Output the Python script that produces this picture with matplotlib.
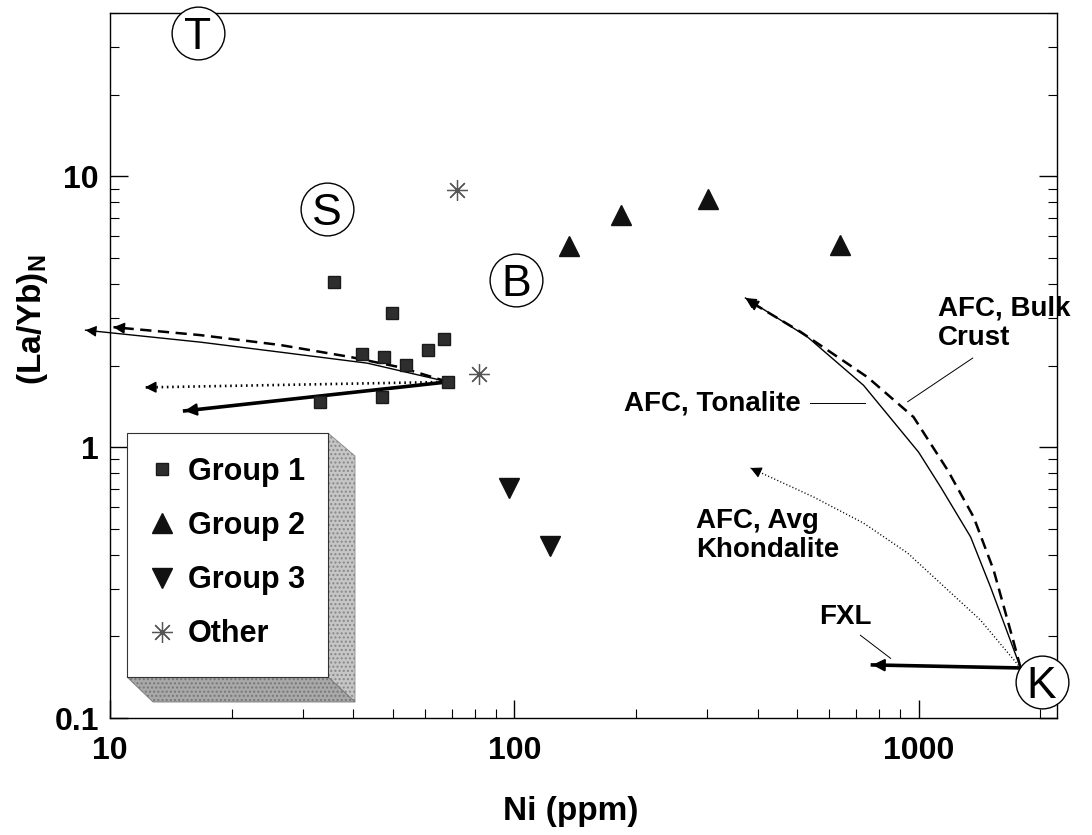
import numpy as np
import matplotlib
matplotlib.use('Agg')
import matplotlib.pyplot as plt
from matplotlib.patches import Polygon, Rectangle
from matplotlib.ticker import FuncFormatter, NullFormatter

plt.rcParams['font.family'] = ['Liberation Sans', 'DejaVu Sans']
plt.rcParams['font.weight'] = 'bold'
plt.rcParams['mathtext.fontset'] = 'custom'
plt.rcParams['mathtext.rm'] = 'Liberation Sans:bold'
plt.rcParams['mathtext.it'] = 'Liberation Sans:bold'

# --- samples: Ni (ppm) vs chondrite normalised La/Yb ---
g1_ni = [35.8, 49.9, 67.1, 61.2, 42.1, 47.7, 54.0, 68.6, 33.1, 47.1]
g1_layb = [4.06, 3.12, 2.50, 2.28, 2.20, 2.15, 2.01, 1.74, 1.47, 1.53]
g2_ni = [136.8, 184, 302, 641]
g2_layb = [5.52, 7.18, 8.22, 5.56]
g3_ni = [97.2, 122.7]
g3_layb = [0.706, 0.431]
oth_ni = [72.3, 81.9]
oth_layb = [8.88, 1.86]

# --- model trajectories starting from the Group 1 parent ---
ton_l_ni = [68.6, 43.3, 26.4, 16.7, 8.7]
ton_l_layb = [1.74, 2.04, 2.24, 2.44, 2.70]
bulk_l_ni = [68.6, 52.2, 39.3, 26.4, 16.7, 10.2]
bulk_l_layb = [1.74, 1.97, 2.15, 2.38, 2.59, 2.77]
khon_l_ni = [68.6, 12.2]
khon_l_layb = [1.74, 1.66]
fxl_l_ni = [68.6, 15.3]
fxl_l_layb = [1.74, 1.36]

# --- model trajectories starting from komatiite K ---
ton_r_ni = [1788, 1507, 1345, 1134, 1000, 731, 531, 373]
ton_r_layb = [0.153, 0.304, 0.466, 0.712, 0.958, 1.69, 2.55, 3.55]
bulk_r_ni = [1788, 1718, 1533, 1368, 1180, 972, 748, 511, 377]
bulk_r_layb = [0.153, 0.191, 0.352, 0.552, 0.822, 1.29, 1.81, 2.66, 3.49]
khon_r_ni = [1788, 1422, 940, 731, 550, 384]
khon_r_layb = [0.153, 0.230, 0.406, 0.524, 0.654, 0.837]
fxl_r_ni = [1788, 769]
fxl_r_layb = [0.153, 0.157]

# end-member labels
em_names = ['T', 'S', 'B', 'K']
em_ni = [16.5, 34.4, 101, 2016]
em_layb = [33.7, 7.55, 4.13, 0.136]

W, H = 1092, 835


def fig_xy(px, py):
    # pixel (from top-left) -> figure fraction
    return px / W, 1 - py / H


def arrow_line(ax, ni, layb, lw, head=12, **kw):
    ax.plot(ni, layb, color='k', lw=lw, clip_on=False, zorder=3, **kw)
    x0, y0 = ni[-1], layb[-1]
    x1, y1 = ni[-2], layb[-2]
    f = 0.03
    ax.annotate('', xy=(x0, y0), xytext=(x0 * (x1 / x0) ** f, y0 * (y1 / y0) ** f),
                arrowprops=dict(arrowstyle='-|>,head_length=0.55,head_width=0.28',
                                color='k', lw=max(lw * 0.6, 0.8), mutation_scale=head,
                                shrinkA=0, shrinkB=0),
                annotation_clip=False, zorder=3)


fig = plt.figure(figsize=(W / 100, H / 100), dpi=100)
ax = fig.add_axes([110 / W, 1 - 718 / H, 947 / W, 705 / H])
ax.set_xscale('log')
ax.set_yscale('log')
ax.set_xlim(10, 2200)
ax.set_ylim(0.1, 40)

# data points
h1, = ax.plot(g1_ni, g1_layb, 's', ms=8.5, color='#2e2e2e', mec='#1a1a1a', ls='none', label='Group 1', zorder=4)
h2, = ax.plot(g2_ni, g2_layb, '^', ms=14, color='#111111', ls='none', label='Group 2', zorder=4)
h3, = ax.plot(g3_ni, g3_layb, 'v', ms=14, color='#111111', ls='none', label='Group 3', zorder=4)
h4, = ax.plot(oth_ni, oth_layb, marker=(8, 2, 0), ms=15, mew=0.9, color='#555555', ls='none', label='Other', zorder=4)

# model curves
arrow_line(ax, ton_l_ni, ton_l_layb, 1.0)
arrow_line(ax, bulk_l_ni, bulk_l_layb, 1.8, dashes=(4.5, 2.6))
arrow_line(ax, khon_l_ni, khon_l_layb, 1.9, dashes=(0.6, 1.4))
arrow_line(ax, fxl_l_ni, fxl_l_layb, 2.6, head=13)

arrow_line(ax, ton_r_ni, ton_r_layb, 1.0)
arrow_line(ax, bulk_r_ni, bulk_r_layb, 1.8, dashes=(4.5, 2.6))
arrow_line(ax, khon_r_ni, khon_r_layb, 1.0, dashes=(0.8, 1.6))
arrow_line(ax, fxl_r_ni, fxl_r_layb, 2.6, head=13)

# circled end-member labels
for name, x, y in zip(em_names, em_ni, em_layb):
    ax.plot(x, y, 'o', ms=38, mfc='white', mec='black', mew=1.0, clip_on=False, zorder=6)
    ax.annotate(name, (x, y), xytext=(0, -11.5), textcoords='offset points',
                ha='center', va='baseline', fontsize=32, fontweight='normal',
                annotation_clip=False, zorder=7)

# curve labels
lab_kw = dict(fontsize=20, fontweight='bold', zorder=5)
ax.text(511, 1.45, 'AFC, Tonalite', ha='right', va='center', **lab_kw)
ax.plot([540, 739], [1.45, 1.45], color='k', lw=0.7)
ax.text(1114, 2.86, 'AFC, Bulk\nCrust', ha='left', va='center', linespacing=1.15, clip_on=False, **lab_kw)
ax.plot([1361, 940], [2.13, 1.47], color='k', lw=0.7)
ax.text(281, 0.473, 'AFC, Avg\nKhondalite', ha='left', va='center', linespacing=1.15, **lab_kw)
ax.text(659, 0.236, 'FXL', ha='center', va='center', **lab_kw)
ax.plot([718, 853], [0.202, 0.166], color='k', lw=0.7)

# axes styling
for s in ax.spines.values():
    s.set_linewidth(1.0)
fmt = FuncFormatter(lambda v, p: f'{v:g}')
ax.xaxis.set_major_formatter(fmt)
ax.yaxis.set_major_formatter(fmt)
ax.xaxis.set_minor_formatter(NullFormatter())
ax.yaxis.set_minor_formatter(NullFormatter())
ax.tick_params(which='both', direction='in', right=True, top=False)
ax.tick_params(which='major', length=13, width=1.0, labelsize=23)
ax.tick_params(axis='x', which='major', pad=13)
ax.tick_params(axis='y', which='major', pad=8)
ax.tick_params(which='minor', length=6.5, width=0.8)

ax.set_xlabel('Ni (ppm)', fontsize=24, fontweight='bold')
ax.xaxis.label.set_va('center')
ax.xaxis.set_label_coords(0.486, -0.133)
ax.set_ylabel('(La/Yb)$_\\mathrm{N}$', fontsize=24, fontweight='bold')
ax.yaxis.label.set_va('center')
ax.yaxis.set_label_coords(-0.082, 0.565)

# 3-D legend box
front = Rectangle(fig_xy(127, 677), (328 - 127) / W, (677 - 433) / H, transform=fig.transFigure,
                  facecolor='white', edgecolor='#333333', lw=0.8, zorder=8)
side = Polygon([fig_xy(328, 433), fig_xy(355, 456), fig_xy(355, 702), fig_xy(328, 677)],
               closed=True, transform=fig.transFigure, facecolor='#c6c6c6', edgecolor='#888888',
               lw=0.6, hatch='....', zorder=8)
bottom = Polygon([fig_xy(127, 677), fig_xy(153, 702), fig_xy(355, 702), fig_xy(328, 677)],
                 closed=True, transform=fig.transFigure, facecolor='#a9a9a9', edgecolor='#777777',
                 lw=0.6, hatch='....', zorder=8)
for p in (side, bottom, front):
    p.set_clip_on(False)
    ax.add_patch(p)

leg = ax.legend(handles=[h1, h2, h3, h4], loc='upper left',
                bbox_to_anchor=fig_xy(150, 457), bbox_transform=fig.transFigure,
                frameon=False, borderpad=0, borderaxespad=0, handlelength=0.8,
                handletextpad=0.45, labelspacing=0.79, numpoints=1,
                prop=dict(family=['Liberation Sans', 'DejaVu Sans'], weight='bold', size=22))
leg.set_zorder(9)

fig.savefig('out.png', dpi=100)
